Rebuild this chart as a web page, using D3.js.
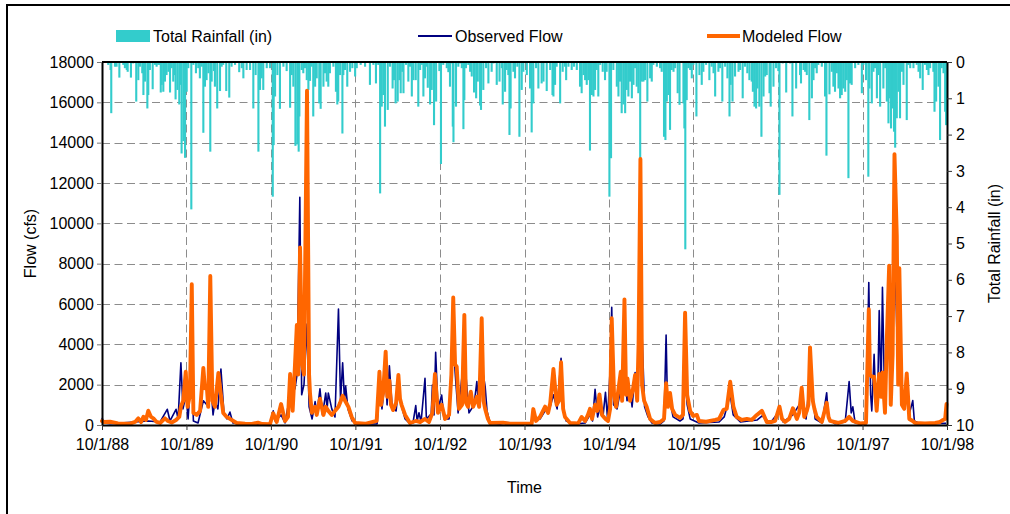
<!DOCTYPE html>
<html>
<head>
<meta charset="utf-8">
<script src="https://cdn.jsdelivr.net/npm/d3@7"></script>
<style>
  html, body { margin: 0; padding: 0; background: #fff; }
  svg { display: block; font-family: "Liberation Sans", Arial, sans-serif; }
</style>
</head>
<body>
<svg id="chart" width="1010" height="514"></svg>
<script>
// ---- Axis ticks -------------------------------------------------------
const dateTickLabels = ["10/1/88","10/1/89","10/1/90","10/1/91","10/1/92","10/1/93",
                        "10/1/94","10/1/95","10/1/96","10/1/97","10/1/98"];
const flowTicks = [0,2000,4000,6000,8000,10000,12000,14000,16000,18000];
const rainTicks = [0,1,2,3,4,5,6,7,8,9,10];

// ---- Rainfall (days since 10/1/88, inches) ----------------------------
const rainDay = [
  27,37,40,56,63,75,92,99,107,111,
  125,135,148,157,164,174,179,186,196,200,
  207,219,229,236,243,251,254,258,265,272,
  279,287,294,301,308,315,318,326,334,340,
  344,352,359,366,373,386,395,406,416,423,
  431,438,445,452,460,468,474,484,488,498,
  510,517,524,537,550,560,575,593,604,611,
  625,640,654,664,676,683,690,697,712,726,
  738,742,748,758,769,784,798,813,820,827,
  836,844,850,853,863,870,877,885,892,899,
  906,913,921,928,939,945,957,964,971,978,
  985,1000,1011,1017,1021,1029,1039,1043,1050,1060,
  1072,1082,1094,1101,1118,1137,1158,1173,1184,1194,
  1202,1209,1216,1223,1235,1245,1256,1262,1269,1278,
  1285,1291,1298,1303,1314,1324,1331,1339,1346,1356,
  1367,1375,1382,1389,1396,1403,1408,1418,1425,1435,
  1444,1458,1465,1475,1490,1497,1504,1511,1516,1519,
  1530,1540,1547,1555,1562,1566,1573,1583,1591,1598,
  1608,1617,1624,1634,1638,1648,1660,1670,1684,1692,
  1706,1718,1728,1732,1742,1749,1756,1761,1766,1778,
  1785,1795,1804,1814,1821,1836,1850,1857,1864,1876,
  1886,1900,1908,1922,1937,1947,1951,1958,1965,1980,
  1991,2001,2006,2016,2030,2040,2052,2066,2073,2081,
  2088,2095,2102,2109,2117,2124,2131,2138,2145,2153,
  2164,2174,2181,2193,2200,2210,2225,2232,2239,2246,
  2254,2261,2268,2275,2282,2290,2297,2304,2311,2318,
  2326,2333,2340,2347,2357,2369,2376,2383,2398,2412,
  2419,2429,2435,2441,2448,2455,2462,2470,2477,2488,
  2496,
  2513,2517,2521,2527,2534,2542,2549,2556,2569,2582,
  2592,2599,2611,2625,2635,2643,2650,2664,2671,2681,
  2693,2703,2712,2717,2725,2736,2751,2758,2769,2779,
  2789,2798,2808,2813,2820,2827,2833,2841,2850,2859,
  2866,2873,2885,2890,2902,2913,2923,2928,2942,2957,
  2974,2984,3000,3017,3021,3032,3039,3046,3057,3068,
  3075,3082,3089,3096,3111,3125,3131,3144,3154,3161,
  3168,3176,3183,3190,3197,3204,3212,3219,3226,3233,
  3240,3255,3269,3284,3291,3302,3312,3317,3327,3334,
  3341,3349,3356,3363,3377,3385,3392,3399,3406,3410,
  3418,3423,3428,3435,3442,3449,3457,3464,3478,3485,
  3493,3507,3521,3529,3536,3547,3557,3565,3572,3579,
  3593,3598,3605,3615,3622,3629,3637,3644,3648
];
const rainInches = [
  0.08,0.22,1.41,0.13,0.13,0.43,0.08,0.17,0.22,0.27,
  0.43,0.04,1.09,0.5,0.13,0.31,0.91,0.54,1.28,0.91,
  0.22,0.75,0.08,0.13,0.08,0.08,0.84,0.63,0.82,0.54,
  0.36,0.27,0.84,0.17,0.54,0.36,1.03,0.77,1.17,0.63,
  2.52,2.18,2.64,0.82,0.17,4.06,0.08,0.31,0.17,0.45,
  0.13,1.95,0.68,0.5,0.31,2.47,0.54,0.25,0.68,1.28,
  0.8,0.13,0.08,0.8,0.98,0.13,0.08,0.28,0.17,0.45,
  0.22,0.22,1.28,0.36,2.47,0.77,0.45,0.77,0.17,0.17,
  3.71,2.29,0.95,0.36,1.29,0.13,0.25,1.26,0.36,0.68,
  2.31,2.27,2.47,1.5,0.22,0.31,0.17,0.5,0.77,0.52,
  0.13,1.5,0.68,0.45,1.14,1.29,0.68,0.31,0.54,0.68,
  0.31,0.13,0.82,1.17,1.09,0.36,1.97,0.36,0.22,0.68,
  0.27,0.17,0.4,0.17,0.08,0.13,0.63,0.08,0.59,0.08,
  3.62,1.23,0.91,1.78,1.32,0.13,0.73,0.5,1.14,1.09,
  0.5,0.86,0.27,0.86,0.08,0.54,0.13,0.95,0.5,0.5,
  1.23,0.22,0.08,0.95,0.45,0.13,0.71,1.17,0.77,1.74,
  1.09,0.25,2.81,0.08,0.17,0.28,0.68,0.04,1.78,2.21,
  1.23,0.13,0.04,0.17,1.85,1.05,0.17,0.08,0.27,0.4,
  0.84,1.0,0.54,1.2,1.32,0.77,0.17,0.59,0.27,0.04,
  0.63,0.54,0.17,1.17,0.82,0.22,0.36,2.01,1.28,0.27,
  0.45,0.13,2.06,0.77,0.27,0.36,0.73,1.94,1.14,0.17,
  0.73,0.59,0.54,0.8,0.22,0.91,0.95,0.63,0.13,1.14,
  0.27,0.13,0.5,0.13,0.22,0.13,0.22,0.68,0.86,0.36,
  0.5,0.63,0.5,2.44,0.91,0.95,0.77,0.22,0.95,0.08,
  0.27,0.5,0.27,3.71,2.65,0.22,0.68,0.95,0.54,1.41,
  1.17,1.41,0.77,0.95,0.54,1.0,0.63,0.17,0.68,0.86,
  2.65,0.54,0.54,0.5,1.09,0.45,0.54,0.08,0.13,0.17,
  0.27,2.06,2.15,1.09,0.91,1.87,0.22,0.27,0.17,0.86,
  1.18,
  1.14,1.83,5.16,1.05,0.17,0.22,0.45,0.08,1.5,0.36,
  0.63,0.27,0.08,0.5,0.13,0.31,0.95,0.27,0.17,1.09,
  0.13,0.45,1.5,0.63,1.09,0.4,0.27,0.22,1.0,0.13,
  0.31,0.5,0.54,0.82,1.23,1.28,0.73,1.23,2.06,0.95,
  0.4,0.36,0.86,1.23,0.68,0.17,0.25,3.66,0.04,0.84,
  0.04,1.5,0.73,0.36,0.59,0.22,0.27,0.36,1.6,1.0,
  0.5,0.17,0.31,0.08,0.13,0.95,2.58,0.89,0.27,0.68,
  0.82,0.31,0.73,1.0,0.91,0.73,0.82,0.5,3.2,0.59,
  0.63,0.17,0.08,0.86,0.08,0.5,3.16,0.73,1.14,0.27,
  0.17,1.0,0.36,1.23,0.73,0.17,1.09,1.69,1.0,1.83,
  1.28,1.92,2.36,1.55,0.82,1.55,0.27,0.63,1.6,0.08,
  0.17,0.17,0.08,0.27,0.45,0.77,0.08,0.22,0.36,0.17,
  0.27,1.37,1.09,0.68,2.15,0.17,0.31,1.37,1.74
];

// ---- Observed flow (days since 10/1/88, cfs) --------------------------
const observedDay = [
  0,9,35,200,251,282,294,320,329,341,
  350,363,372,388,395,415,438,453,467,480,
  488,501,514,527,540,553,566,640,726,740,
  748,774,791,813,834,843,855,863,873,886,
  895,908,921,929,942,953,967,973,978,993,
  1007,1022,1031,1040,1048,1053,1063,1081,1115,1189,
  1199,1210,1226,1232,1242,1254,1271,1281,1295,1310,
  1331,1344,1356,1362,1370,1379,1396,1402,1418,1422,
  1428,1435,1442,1452,1468,1478,1500,1518,1530,1539,
  1566,1576,1586,1608,1620,1628,1641,1656,1664,1677,
  1720,1742,1850,1864,1893,1915,1937,1951,1967,1984,
  1995,2006,2045,2088,2109,2120,2131,2142,2153,2165,
  2176,2185,2196,2203,2211,2226,2242,2258,2269,2282,
  2291,2304,2317,2327,2334,2345,2360,2377,2412,2429,
  2438,2444,2455,2468,2498,2511,2520,2529,2542,2580,
  2667,2689,2715,2728,2759,2832,2853,2888,2928,2944,
  2986,3024,3043,3060,3072,3082,3112,3132,3140,3168,
  3212,3229,3238,3245,3255,3302,3314,3322,3327,3337,
  3343,3352,3359,3367,3373,3382,3402,3410,3425,3437,
  3446,3457,3478,3488,3504,3511,3536,3648
];
const observedCfs = [
  360,100,60,200,150,780,200,780,300,3090,
  800,1500,300,3000,200,100,1200,1000,2500,500,
  1160,800,2780,600,300,640,100,40,30,700,
  200,500,100,1500,1800,2500,11290,1500,2000,5000,
  900,300,1160,600,1790,500,1590,800,1590,800,
  400,5750,1200,3090,1200,1930,800,200,50,50,
  1800,800,2500,1000,2930,900,700,1800,900,300,
  60,100,960,200,610,150,2310,300,500,300,
  1980,500,3600,800,1490,300,300,4000,2000,600,
  3500,2000,600,1000,2150,900,3000,1900,700,100,
  40,120,40,400,300,700,900,1500,800,3310,
  800,200,50,100,500,200,1770,400,900,400,
  1620,300,2730,5840,1000,800,1800,3000,1200,1700,
  900,2600,1500,9000,4500,900,400,100,50,200,
  4460,1000,1200,400,200,300,2500,1000,300,100,
  150,400,1500,500,150,250,450,100,700,150,
  500,1200,300,2500,1600,300,100,1600,300,60,
  150,2150,600,900,100,60,7060,1500,700,3500,
  1500,1200,5670,1500,6830,1500,6000,1500,9000,4000,
  5000,1300,1500,500,1210,200,60,80
];

// ---- Modeled flow (days since 10/1/88, cfs) ---------------------------
const modeledDay = [
  0,9,35,69,92,121,143,157,169,179,
  190,200,212,222,236,251,272,285,301,320,
  334,341,351,362,370,380,388,395,409,424,
  438,445,453,459,468,477,488,503,514,524,
  539,553,582,618,648,674,692,726,740,755,
  774,791,804,813,824,834,842,848,856,865,
  873,886,895,899,907,921,928,942,957,967,
  978,993,1007,1022,1029,1040,1053,1065,1079,1094,
  1137,1187,1199,1206,1215,1226,1233,1242,1249,1258,
  1271,1281,1288,1295,1310,1331,1356,1375,1396,1413,
  1428,1439,1452,1468,1483,1500,1510,1518,1526,1533,
  1543,1556,1566,1573,1582,1594,1604,1620,1630,1641,
  1649,1656,1668,1677,1733,1764,1828,1857,1864,1876,
  1893,1915,1928,1937,1951,1965,1975,1984,1993,2001,
  2023,2058,2073,2088,2100,2109,2118,2131,2140,2150,
  2161,2176,2187,2196,2203,2213,2222,2230,2242,2248,
  2258,2265,2271,2282,2295,2304,2313,2319,2327,2334,
  2343,2354,2369,2390,2412,2429,2438,2446,2455,2464,
  2477,2498,2511,2520,2529,2542,2555,2571,2580,2611,
  2650,2667,2686,2700,2715,2729,2743,2765,2787,2808,
  2830,2852,2873,2895,2909,2928,2939,2952,2970,2986,
  3003,3013,3024,3035,3046,3053,3060,3072,3079,3089,
  3111,3132,3140,3147,3183,3212,3229,3245,3276,3302,
  3314,3319,3327,3337,3348,3359,3367,3373,3384,3392,
  3402,3409,3417,3425,3435,3441,3446,3457,3467,3478,
  3489,3504,3514,3557,3601,3622,3635,3644,3650
];
const modeledCfs = [
  200,150,160,80,60,70,150,330,150,410,
  250,710,400,330,150,100,330,200,120,250,
  400,910,1200,2640,900,1500,6980,600,500,700,
  2830,1820,1900,900,7390,1200,900,2580,1500,600,
  400,300,100,60,50,120,50,40,580,150,
  1040,200,400,2530,700,2980,4960,2500,8810,3000,
  2500,16580,2500,1570,600,900,500,1300,500,900,
  700,500,700,900,1100,1450,1150,900,400,100,
  60,200,2640,1000,1600,3640,1400,2200,1000,740,
  1100,2480,1300,990,500,100,200,150,300,150,
  600,2530,600,1000,300,500,2500,6320,3000,2890,
  800,1000,5460,1100,900,1650,900,1400,900,5290,
  1200,800,300,100,120,60,60,60,790,200,
  400,910,600,1070,2780,1000,1200,3110,800,400,
  100,80,400,200,500,800,300,1000,700,1520,
  500,300,200,800,5290,1500,900,1600,2640,1200,
  6230,1500,2310,1200,1800,2480,1200,4000,13190,2000,
  1200,900,300,100,150,300,2070,900,1590,800,
  500,350,500,5570,1500,700,450,500,200,160,
  250,300,750,800,2150,910,400,250,300,250,
  500,700,150,150,200,910,300,150,300,830,
  300,600,1850,400,700,1000,3850,1200,800,400,
  150,1100,400,200,100,200,400,200,80,100,
  5740,2500,2400,2400,700,2530,1400,2600,600,4300,
  7900,1000,3500,13430,9370,2000,7770,1000,800,2560,
  300,200,100,80,100,150,250,300,1040
];

// ---- Layout -----------------------------------------------------------
const plotLeft = 102, plotRight = 947, plotTop = 62, plotBottom = 425;
const FONT = 16;
const COLORS = { rain: "#33CCCC", observed: "#000080", modeled: "#FF6600", grid: "#8c8c8c" };

const svg = d3.select("#chart");

const parseDate = d3.utcParse("%m/%d/%y");
const tickDates = dateTickLabels.map(parseDate);
const startDate = tickDates[0];
const toDate = d => d3.utcDay.offset(startDate, d);

const x = d3.scaleUtc()
  .domain([tickDates[0], tickDates[tickDates.length - 1]])
  .range([plotLeft, plotRight]);
const yFlow = d3.scaleLinear().domain([0, 18000]).range([plotBottom, plotTop]);
const yRain = d3.scaleLinear().domain([0, 10]).range([plotTop, plotBottom]);

// Outer frame
svg.append("rect")
  .attr("x", 7).attr("y", 5)
  .attr("width", 1020).attr("height", 540)
  .attr("fill", "none").attr("stroke", "#000").attr("stroke-width", 2);

// Gridlines
const grid = svg.append("g").attr("stroke", COLORS.grid).attr("stroke-width", 1)
  .attr("stroke-dasharray", "8,4.5");
grid.selectAll("line.h")
  .data(flowTicks.filter(t => t > 0 && t < 18000))
  .join("line").attr("class", "h")
  .attr("x1", plotLeft).attr("x2", plotRight)
  .attr("y1", d => Math.round(yFlow(d)) + 0.5).attr("y2", d => Math.round(yFlow(d)) + 0.5);
grid.selectAll("line.v")
  .data(tickDates.slice(1, -1))
  .join("line").attr("class", "v")
  .attr("x1", d => Math.round(x(d)) + 0.5).attr("x2", d => Math.round(x(d)) + 0.5)
  .attr("y1", plotTop).attr("y2", plotBottom);

// Rainfall bars hanging from the top axis
const rain = rainDay.map((d, i) => ({ date: toDate(d), v: rainInches[i] }));
svg.append("g").attr("fill", COLORS.rain)
  .selectAll("rect").data(rain).join("rect")
  .attr("x", d => x(d.date) - 1.05)
  .attr("width", 2.1)
  .attr("y", yRain(0))
  .attr("height", d => yRain(d.v) - yRain(0));

// Flow lines
const observed = observedDay.map((d, i) => ({ date: toDate(d), v: observedCfs[i] }));
const modeled = modeledDay.map((d, i) => ({ date: toDate(d), v: modeledCfs[i] }));
const line = d3.line().x(d => x(d.date)).y(d => yFlow(d.v));

svg.append("path").datum(observed)
  .attr("d", line).attr("fill", "none")
  .attr("stroke", COLORS.observed).attr("stroke-width", 1.6)
  .attr("stroke-linejoin", "round");
svg.append("path").datum(modeled)
  .attr("d", line).attr("fill", "none")
  .attr("stroke", COLORS.modeled).attr("stroke-width", 3.9)
  .attr("stroke-linejoin", "round").attr("stroke-linecap", "round");

// Axes
function styleAxis(g, tickColor) {
  g.select(".domain").attr("stroke", "#000").attr("stroke-width", 2);
  g.selectAll(".tick line").attr("stroke", tickColor).attr("stroke-width", 1);
  g.selectAll(".tick text").attr("fill", "#000").attr("font-size", FONT)
    .attr("font-family", "Liberation Sans, Arial, sans-serif");
}

const leftAxis = svg.append("g")
  .attr("transform", `translate(${plotLeft},0)`)
  .call(d3.axisLeft(yFlow).tickValues(flowTicks).tickSize(5).tickPadding(3)
    .tickSizeOuter(0).tickFormat(d3.format("d")));
styleAxis(leftAxis, "#777");

const rightAxis = svg.append("g")
  .attr("transform", `translate(${plotRight},0)`)
  .call(d3.axisRight(yRain).tickValues(rainTicks).tickSize(5).tickPadding(4)
    .tickSizeOuter(0).tickFormat(d3.format("d")));
styleAxis(rightAxis, "#333");

const bottomAxis = svg.append("g")
  .attr("transform", `translate(0,${plotBottom})`)
  .call(d3.axisBottom(x).tickValues(tickDates).tickSize(5).tickPadding(9)
    .tickSizeOuter(0).tickFormat((d, i) => dateTickLabels[i]));
styleAxis(bottomAxis, "#333");

// Top edge of the plot (rainfall baseline)
svg.append("line")
  .attr("x1", plotLeft).attr("x2", plotRight)
  .attr("y1", plotTop).attr("y2", plotTop)
  .attr("stroke", "#000").attr("stroke-width", 2);

// Axis titles
svg.append("text")
  .attr("transform", `translate(36,${(plotTop + plotBottom) / 2}) rotate(-90)`)
  .attr("text-anchor", "middle").attr("font-size", FONT).text("Flow (cfs)");
svg.append("text")
  .attr("transform", `translate(1000,${(plotTop + plotBottom) / 2}) rotate(-90)`)
  .attr("text-anchor", "middle").attr("font-size", FONT).text("Total Rainfall (in)");
svg.append("text")
  .attr("x", (plotLeft + plotRight) / 2).attr("y", 493)
  .attr("text-anchor", "middle").attr("font-size", FONT).text("Time");

// Legend
const legend = svg.append("g").attr("font-size", FONT);
legend.append("rect").attr("x", 116).attr("y", 30).attr("width", 34).attr("height", 12)
  .attr("fill", COLORS.rain);
legend.append("text").attr("x", 153).attr("y", 42).text("Total Rainfall (in)");
legend.append("line").attr("x1", 418).attr("x2", 452).attr("y1", 36).attr("y2", 36)
  .attr("stroke", COLORS.observed).attr("stroke-width", 2);
legend.append("text").attr("x", 455).attr("y", 42).text("Observed Flow");
legend.append("line").attr("x1", 707).attr("x2", 740).attr("y1", 36).attr("y2", 36)
  .attr("stroke", COLORS.modeled).attr("stroke-width", 4);
legend.append("text").attr("x", 742).attr("y", 42).text("Modeled Flow");
</script>
</body>
</html>
